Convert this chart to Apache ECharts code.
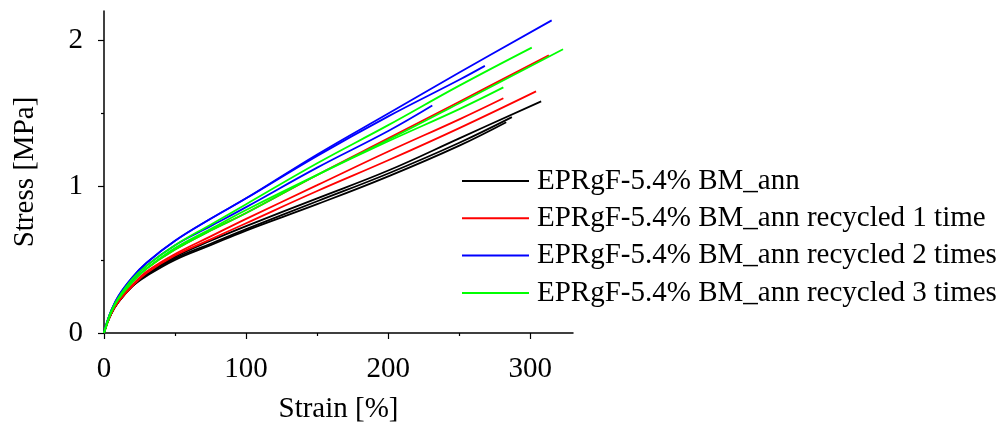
<!DOCTYPE html>
<html>
<head>
<meta charset="utf-8">
<script src="https://cdn.jsdelivr.net/npm/echarts@6/dist/echarts.min.js"></script>
<style>
  html, body { margin: 0; padding: 0; background: #fff; }
  #chart { width: 1008px; height: 429px; }
</style>
</head>
<body>
<div id="chart"></div>
<script>
// Tensile curves: [strain %, stress MPa], three specimens per material
const seriesNames = [
  'EPRgF-5.4% BM_ann',
  'EPRgF-5.4% BM_ann recycled 1 time',
  'EPRgF-5.4% BM_ann recycled 2 times',
  'EPRgF-5.4% BM_ann recycled 3 times'
];
const seriesColors = ['#000000', '#ff0000', '#0000ff', '#00ff00'];

const xMajorTicks = [0, 100, 200, 300];
const xMinorTicks = [50, 150, 250];
const yMajorTicks = [0, 1, 2];
const yMinorTicks = [0.5, 1.5];

const annA = [[0,0],[2,0.06],[5,0.13],[10,0.21],[20,0.32],[30,0.40],[50,0.52],[75,0.63],[100,0.73],[150,0.92],[200,1.11],[250,1.33],[307.6,1.583]];
const annB = [[0,0],[2,0.06],[5,0.13],[10,0.21],[20,0.32],[30,0.40],[50,0.51],[75,0.61],[100,0.71],[150,0.90],[200,1.09],[250,1.30],[287,1.475]];
const annC = [[0,0],[2,0.06],[5,0.13],[10,0.21],[20,0.32],[30,0.39],[50,0.50],[75,0.60],[100,0.70],[150,0.88],[200,1.07],[250,1.28],[283,1.44]];

const rec1A = [[0,0],[2,0.06],[5,0.14],[10,0.23],[20,0.35],[30,0.44],[50,0.57],[75,0.70],[100,0.82],[150,1.08],[200,1.33],[250,1.58],[313,1.898]];
const rec1B = [[0,0],[2,0.06],[5,0.13],[10,0.21],[20,0.32],[30,0.41],[50,0.53],[75,0.64],[100,0.75],[150,0.97],[200,1.18],[250,1.40],[304,1.651]];
const rec1C = [[0,0],[2,0.06],[5,0.13],[10,0.22],[20,0.33],[30,0.42],[50,0.54],[75,0.66],[100,0.78],[150,1.01],[200,1.24],[250,1.46],[281,1.604]];

const rec2A = [[0,0],[2,0.07],[5,0.15],[10,0.25],[20,0.38],[30,0.48],[50,0.63],[75,0.78],[100,0.92],[150,1.22],[200,1.50],[250,1.78],[315,2.136]];
const rec2B = [[0,0],[2,0.07],[5,0.15],[10,0.25],[20,0.38],[30,0.48],[50,0.63],[75,0.78],[100,0.92],[150,1.21],[200,1.48],[250,1.73],[268,1.825]];
const rec2C = [[0,0],[2,0.07],[5,0.15],[10,0.24],[20,0.36],[30,0.46],[50,0.60],[75,0.73],[100,0.86],[150,1.13],[200,1.38],[231,1.554]];

const rec3A = [[0,0],[2,0.06],[5,0.14],[10,0.23],[20,0.35],[30,0.44],[50,0.57],[75,0.70],[100,0.82],[150,1.08],[200,1.32],[250,1.57],[323,1.939]];
const rec3B = [[0,0],[2,0.07],[5,0.15],[10,0.24],[20,0.37],[30,0.46],[50,0.60],[75,0.74],[100,0.88],[150,1.16],[200,1.42],[250,1.69],[301,1.950]];
const rec3C = [[0,0],[2,0.06],[5,0.14],[10,0.23],[20,0.35],[30,0.44],[50,0.58],[75,0.71],[100,0.84],[150,1.08],[200,1.31],[250,1.53],[281,1.678]];

const curveGroups = [
  [annA, annB, annC],
  [rec1A, rec1B, rec1C],
  [rec2A, rec2B, rec2C],
  [rec3A, rec3B, rec3C]
];

const fontFamily = '"Liberation Serif", "Times New Roman", serif';
const textBase = { fontFamily: fontFamily, fontSize: 29, color: '#000' };
const tickLine = { color: '#000', width: 1.2 };

const series = [];
curveGroups.forEach((group, g) => {
  group.forEach(curve => {
    series.push({
      name: seriesNames[g],
      type: 'line',
      data: curve,
      smooth: 0.4,
      showSymbol: false,
      symbol: 'none',
      lineStyle: { color: seriesColors[g], width: 1.8 },
      itemStyle: { color: seriesColors[g] },
      z: 2 + g
    });
  });
});

const chart = echarts.init(document.getElementById('chart'), null, { renderer: 'canvas' });
chart.setOption({
  animation: false,
  backgroundColor: '#ffffff',
  textStyle: { fontFamily: fontFamily, color: '#000' },
  grid: { left: 104, right: 435, top: 11, bottom: 95, containLabel: false },
  legend: {
    data: seriesNames,
    orient: 'vertical',
    left: 462,
    top: 166,
    padding: 0,
    itemWidth: 67,
    itemHeight: 2,
    itemGap: 7.3,
    icon: 'rect',
    textStyle: Object.assign({ lineHeight: 30, padding: [0, 0, 0, 3] }, textBase)
  },
  xAxis: [{
    type: 'value',
    min: 0,
    max: 330,
    interval: 100,
    name: 'Strain [%]',
    nameLocation: 'middle',
    nameGap: 62,
    nameTextStyle: textBase,
    axisLine: { show: true, onZero: false, lineStyle: { color: '#000', width: 1.5 } },
    axisTick: { show: true, length: 6, customValues: xMajorTicks, lineStyle: tickLine },
    axisLabel: Object.assign({ margin: 22, customValues: xMajorTicks }, textBase),
    splitLine: { show: false }
  }, {
    // short unlabeled ticks halfway between the labeled ones
    type: 'value',
    position: 'bottom',
    min: 0,
    max: 330,
    interval: 50,
    axisLine: { show: false },
    axisTick: { show: true, length: 3, customValues: xMinorTicks, lineStyle: tickLine },
    axisLabel: { show: false },
    splitLine: { show: false }
  }],
  yAxis: [{
    type: 'value',
    min: 0,
    max: 2.2,
    interval: 1,
    name: 'Stress [MPa]',
    nameLocation: 'middle',
    nameGap: 64,
    nameRotate: 90,
    nameTextStyle: textBase,
    axisLine: { show: true, onZero: false, lineStyle: { color: '#000', width: 1.5 } },
    axisTick: { show: true, length: 6, customValues: yMajorTicks, lineStyle: tickLine },
    axisLabel: Object.assign({ margin: 21, customValues: yMajorTicks }, textBase),
    splitLine: { show: false }
  }, {
    type: 'value',
    position: 'left',
    min: 0,
    max: 2.2,
    interval: 0.5,
    axisLine: { show: false },
    axisTick: { show: true, length: 3, customValues: yMinorTicks, lineStyle: tickLine },
    axisLabel: { show: false },
    splitLine: { show: false }
  }],
  series: series
});
</script>
</body>
</html>
